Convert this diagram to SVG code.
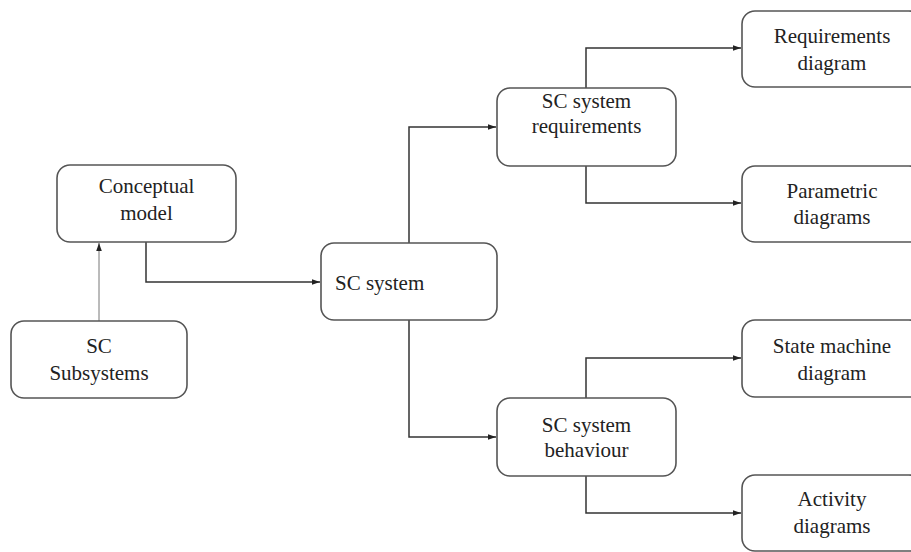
<svg xmlns="http://www.w3.org/2000/svg" width="911" height="552" viewBox="0 0 911 552">
<style>
.box{fill:#fff;stroke:#555;stroke-width:1.6}
.t{font-family:'Liberation Serif','DejaVu Serif',serif;font-size:21px;fill:#222;text-anchor:middle}
.c{fill:none;stroke:#333;stroke-width:1.5}
.c2{fill:none;stroke:#777;stroke-width:1}
</style>
<defs>
<marker id="ah" viewBox="0 0 10 10" refX="10" refY="5" markerWidth="8" markerHeight="8" markerUnits="userSpaceOnUse" orient="auto">
<path d="M0,1.5 L10,5 L0,8.5 Z" fill="#222"/>
</marker>
</defs>
<rect width="911" height="552" fill="#fff"/>
<g id="connectors">
<path class="c2" d="M99,321 V243" marker-end="url(#ah)"/>
<path class="c" d="M146,242 V282 H320" marker-end="url(#ah)"/>
<path class="c" d="M409,243 V127 H496" marker-end="url(#ah)"/>
<path class="c" d="M409,320 V437 H496" marker-end="url(#ah)"/>
<path class="c" d="M586,88 V48 H741" marker-end="url(#ah)"/>
<path class="c" d="M586,166 V203 H741" marker-end="url(#ah)"/>
<path class="c" d="M586,398 V358 H741" marker-end="url(#ah)"/>
<path class="c" d="M586,476 V513 H741" marker-end="url(#ah)"/>
</g>
<g id="conceptual">
<rect class="box" x="57" y="165" width="179" height="77" rx="13"/>
<text class="t" font-family="Liberation Serif, serif" x="146.5" y="193">Conceptual</text>
<text class="t" font-family="Liberation Serif, serif" x="146.5" y="220">model</text>
</g>
<g id="subsystems">
<rect class="box" x="11" y="321" width="176" height="77" rx="13"/>
<text class="t" x="99" y="353">SC</text>
<text class="t" x="99" y="380">Subsystems</text>
</g>
<g id="scsystem">
<rect class="box" x="321" y="243" width="176" height="77" rx="13"/>
<text class="t" x="335" y="290" style="text-anchor:start">SC system</text>
</g>
<g id="requirements">
<rect class="box" x="497" y="88" width="179" height="78" rx="13"/>
<text class="t" x="586.5" y="108">SC system</text>
<text class="t" x="586.5" y="133">requirements</text>
</g>
<g id="behaviour">
<rect class="box" x="497" y="398" width="179" height="78" rx="13"/>
<text class="t" x="586.5" y="432">SC system</text>
<text class="t" x="586.5" y="457">behaviour</text>
</g>
<g id="reqdiagram">
<rect class="box" x="742" y="11" width="180" height="76" rx="13"/>
<text class="t" x="832" y="43">Requirements</text>
<text class="t" x="832" y="70">diagram</text>
</g>
<g id="parametric">
<rect class="box" x="742" y="166" width="180" height="76" rx="13"/>
<text class="t" x="832" y="198">Parametric</text>
<text class="t" x="832" y="224">diagrams</text>
</g>
<g id="statemachine">
<rect class="box" x="742" y="320" width="180" height="77" rx="13"/>
<text class="t" x="832" y="353">State machine</text>
<text class="t" x="832" y="380">diagram</text>
</g>
<g id="activity">
<rect class="box" x="742" y="475" width="180" height="76" rx="13"/>
<text class="t" x="832" y="506">Activity</text>
<text class="t" x="832" y="533">diagrams</text>
</g>
</svg>
